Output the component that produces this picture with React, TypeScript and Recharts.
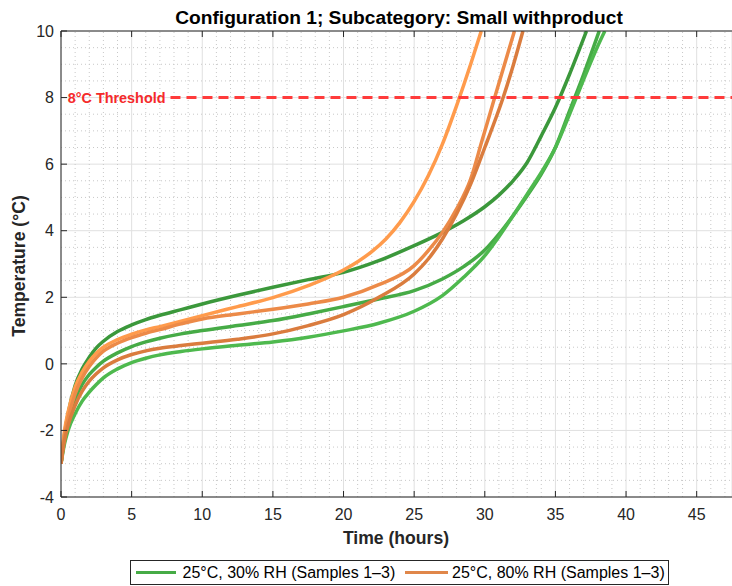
import { LineChart, Line, XAxis, YAxis, CartesianGrid, ReferenceLine } from 'recharts'

// 25°C, 30% RH — three samples (greens)
const hoursG1 = [0, 0.25, 0.5, 1, 1.5, 2, 2.5, 3, 4, 5, 6, 7, 8.5, 10, 12.5, 15, 17.5, 20, 22.5, 25, 27, 28.5, 30, 31, 32, 33, 34, 35, 36, 37.2]
const tempG1 = [-3, -2.1, -1.5, -0.65, -0.15, 0.2, 0.48, 0.68, 0.97, 1.17, 1.33, 1.46, 1.63, 1.8, 2.06, 2.3, 2.53, 2.75, 3.1, 3.55, 3.95, 4.3, 4.72, 5.07, 5.5, 6.05, 6.85, 7.7, 8.7, 10]

const hoursG2 = [0, 0.25, 0.5, 1, 1.5, 2, 2.5, 3, 4, 5, 6, 7, 8.5, 10, 12.5, 15, 17.5, 20, 22.5, 25, 27, 28.5, 30, 31, 32, 33, 34, 35, 36, 37, 38.1]
const tempG2 = [-3, -2.25, -1.75, -1.05, -0.62, -0.32, -0.1, 0.08, 0.33, 0.52, 0.66, 0.77, 0.9, 1.0, 1.15, 1.3, 1.5, 1.72, 1.95, 2.2, 2.55, 2.92, 3.42, 3.9, 4.45, 5.05, 5.7, 6.5, 7.6, 8.7, 10]

const hoursG3 = [0, 0.25, 0.5, 1, 1.5, 2, 2.5, 3, 4, 5, 6, 7, 8.5, 10, 12.5, 15, 17.5, 20, 22.5, 25, 27, 28.5, 30, 31, 32, 33, 34, 35, 36, 37, 38, 38.5]
const tempG3 = [-3, -2.4, -2.0, -1.5, -1.12, -0.85, -0.62, -0.42, -0.15, 0.04, 0.17, 0.27, 0.37, 0.45, 0.56, 0.66, 0.8, 0.99, 1.22, 1.58, 2.05, 2.6, 3.25, 3.82, 4.45, 5.1, 5.75, 6.5, 7.5, 8.55, 9.55, 10]

// 25°C, 80% RH — three samples (oranges)
const hoursO1 = [0, 0.25, 0.5, 1, 1.5, 2, 2.5, 3, 4, 5, 6, 7, 8.5, 10, 12.5, 15, 17.5, 20, 21, 22, 23, 24, 25, 26, 27, 28, 29, 29.75]
const tempO1 = [-3, -2.0, -1.45, -0.7, -0.25, 0.08, 0.32, 0.5, 0.73, 0.89, 1.02, 1.12, 1.28, 1.45, 1.72, 1.99, 2.35, 2.82, 3.07, 3.37, 3.75, 4.25, 4.88, 5.65, 6.6, 7.75, 9.0, 10]

const hoursO2 = [0, 0.25, 0.5, 1, 1.5, 2, 2.5, 3, 4, 5, 6, 7, 8.5, 10, 12.5, 15, 17.5, 20, 22.5, 25, 26, 27, 28, 29, 29.8, 30.7, 31.4, 32.1]
const tempO2 = [-3, -2.15, -1.65, -0.9, -0.42, -0.08, 0.18, 0.38, 0.62, 0.79, 0.92, 1.03, 1.2, 1.35, 1.5, 1.64, 1.8, 2.0, 2.38, 2.95, 3.4, 3.95, 4.65, 5.55, 6.7, 8.0, 9.0, 10]

const hoursO3 = [0, 0.25, 0.5, 1, 1.5, 2, 2.5, 3, 4, 5, 6, 7, 8.5, 10, 12.5, 15, 17.5, 20, 22.5, 25, 26, 27, 28, 29, 30, 31.3, 32, 32.7]
const tempO3 = [-3, -2.3, -1.85, -1.25, -0.82, -0.52, -0.3, -0.12, 0.12, 0.28, 0.39, 0.47, 0.55, 0.62, 0.74, 0.9, 1.15, 1.48, 2.0, 2.7, 3.15, 3.75, 4.5, 5.4, 6.5, 8.0, 8.95, 10]

const xTicks = [0, 5, 10, 15, 20, 25, 30, 35, 40, 45]
const yTicks = [-4, -2, 0, 2, 4, 6, 8, 10]
const xMinor = Array.from({ length: 47 }, (_, i) => i + 1).filter(v => v % 5 !== 0)
const yMinor = Array.from({ length: 27 }, (_, i) => -3.5 + i * 0.5).filter(v => v % 2 !== 0)

const THRESHOLD = 8
const THRESHOLD_START = 7.75
const X_MAX = 47.5

const AXIS = '#262626'
const FONT = '"Liberation Sans", Arial, Helvetica, sans-serif'

const series = [
  { name: 'g1', hours: hoursG1, temps: tempG1, color: '#3b983b' },
  { name: 'g2', hours: hoursG2, temps: tempG2, color: '#46ab46' },
  { name: 'g3', hours: hoursG3, temps: tempG3, color: '#4eb94e' },
  { name: 'o1', hours: hoursO1, temps: tempO1, color: '#ff9b4c' },
  { name: 'o2', hours: hoursO2, temps: tempO2, color: '#ec8a48' },
  { name: 'o3', hours: hoursO3, temps: tempO3, color: '#da7c3e' },
]

const toPoints = (h: number[], v: number[]) => h.map((t, i) => ({ t, v: v[i] }))

function BottomTick({ x, y, payload }: any) {
  return (
    <g>
      <line x1={x} x2={x} y1={y} y2={y - 6} stroke={AXIS} />
      <text x={x} y={y + 23} textAnchor="middle" fontSize={16} fill={AXIS} fontFamily={FONT}>{payload.value}</text>
    </g>
  )
}

function TopTick({ x, y }: any) {
  return <line x1={x} x2={x} y1={y} y2={y + 6} stroke={AXIS} />
}

function LeftTick({ x, y, payload }: any) {
  return (
    <g>
      <line x1={x} x2={x + 6} y1={y} y2={y} stroke={AXIS} />
      <text x={x - 7} y={y} dy="0.36em" textAnchor="end" fontSize={16} fill={AXIS} fontFamily={FONT}>{payload.value}</text>
    </g>
  )
}

export default function App() {
  return (
    <div style={{ position: 'absolute', left: 0, top: 0, width: 732, height: 586, background: '#fff', fontFamily: FONT }}>
      <LineChart width={732} height={586} margin={{ top: 21, right: 0, bottom: 59, left: 21 }}>
        {xMinor.map(v => (
          <ReferenceLine key={'xm' + v} x={v} stroke="#c8c8c8" strokeDasharray="1 3" />
        ))}
        {yMinor.map(v => (
          <ReferenceLine key={'ym' + v} y={v} stroke="#c8c8c8" strokeDasharray="1 3" />
        ))}
        <CartesianGrid stroke="#e0e0e0" />
        <XAxis
          dataKey="t" type="number" domain={[0, X_MAX]} ticks={xTicks} height={30}
          tickSize={0} tickMargin={0} tickLine={false} stroke={AXIS} tick={<BottomTick />}
          allowDataOverflow interval={0}
        />
        <XAxis
          xAxisId="top" orientation="top" dataKey="t" type="number" domain={[0, X_MAX]} ticks={xTicks} height={10}
          tickSize={0} tickMargin={0} tickLine={false} stroke={AXIS} tick={<TopTick />}
          allowDataOverflow interval={0}
        />
        <YAxis
          type="number" domain={[-4, 10]} ticks={yTicks} width={40}
          tickSize={0} tickMargin={0} tickLine={false} stroke={AXIS} tick={<LeftTick />}
          allowDataOverflow interval={0}
        />
        {series.map(s => (
          <Line
            key={s.name} data={toPoints(s.hours, s.temps)} dataKey="v" type="monotone"
            stroke={s.color} strokeWidth={3.5} dot={false} isAnimationActive={false}
            strokeLinejoin="round"
          />
        ))}
        <ReferenceLine
          segment={[{ x: THRESHOLD_START, y: THRESHOLD }, { x: X_MAX, y: THRESHOLD }]}
          stroke="#ff3b3b" strokeWidth={3} strokeDasharray="10 6"
          label={{ value: '8°C Threshold', position: 'left', offset: 5, fill: '#f52a2a', fontSize: 14.4, fontWeight: 'bold', fontFamily: FONT }}
        />
      </LineChart>
      <svg width={732} height={586} style={{ position: 'absolute', left: 0, top: 0, pointerEvents: 'none' }}>
        <text x={399} y={23.5} textAnchor="middle" fontSize={19.2} fontWeight="bold" fill="#000" fontFamily={FONT}>
          Configuration 1; Subcategory: Small withproduct
        </text>
        <text x={396} y={544} textAnchor="middle" fontSize={17.6} fontWeight="bold" fill={AXIS} fontFamily={FONT}>
          Time (hours)
        </text>
        <text transform="translate(25,266) rotate(-90)" textAnchor="middle" fontSize={17.6} fontWeight="bold" fill={AXIS} fontFamily={FONT}>
          Temperature (°C)
        </text>
        <rect x={130.5} y={560.5} width={538} height={24} fill="#fff" stroke={AXIS} strokeWidth={1} />
        <line x1={136} x2={176} y1={572.5} y2={572.5} stroke="#46ab46" strokeWidth={3} />
        <text x={182.5} y={578} fontSize={16} fill="#000" fontFamily={FONT}>25°C, 30% RH (Samples 1–3)</text>
        <line x1={405} x2={448} y1={572.5} y2={572.5} stroke="#e0874a" strokeWidth={3} />
        <text x={452} y={578} fontSize={16} fill="#000" fontFamily={FONT}>25°C, 80% RH (Samples 1–3)</text>
      </svg>
    </div>
  )
}
